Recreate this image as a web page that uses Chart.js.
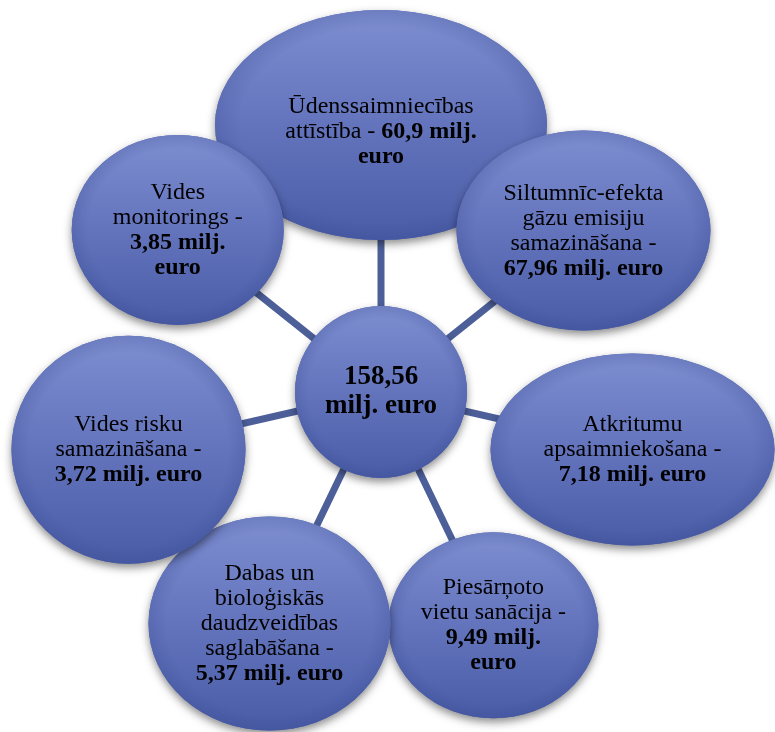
<!DOCTYPE html>
<html>
<head>
<meta charset="utf-8">
<script src="https://cdn.jsdelivr.net/npm/chart.js@4.4.1/dist/chart.umd.min.js"></script>
<style>
  html, body { margin: 0; padding: 0; background: #ffffff; }
  #wrap { width: 775px; height: 732px; }
</style>
</head>
<body>
<div id="wrap"><canvas id="chart" width="775" height="732"></canvas></div>
<script>
// Budget areas (milj. euro), clockwise from the top
const categories = [
    'Ūdenssaimniecības attīstība',
    'Siltumnīc-efekta gāzu emisiju samazināšana',
    'Atkritumu apsaimniekošana',
    'Piesārņoto vietu sanācija',
    'Dabas un bioloģiskās daudzveidības saglabāšana',
    'Vides risku samazināšana',
    'Vides monitorings'
];
const amounts = [60.9, 67.96, 7.18, 9.49, 5.37, 3.72, 3.85];
const total = 158.56;
const unit = 'milj. euro';

// Radial layout (in chart units, 1 unit = 1 px)
const hub = { x: 381, y: 392, r: 86 };
const nodeDist = [267, 259, 258, 259, 257, 259, 260];
const nodeRx = [166, 127, 142, 105, 121, 117, 106];
const nodeRy = [115, 100, 96, 93, 107, 114, 95];
const wrapWidth = [195, 165, 182, 147, 152, 155, 135];
const textDy = [7, 1, 0, 0, 0, 0, 0];

const FONT = '"Liberation Serif", "Times New Roman", serif';

function fmt(v) {
    return String(v).replace('.', ',');
}

// node centres from the angle step around the hub
const nodes = categories.map((c, i) => {
    const a = (90 - i * 360 / categories.length) * Math.PI / 180;
    return { x: hub.x + nodeDist[i] * Math.cos(a), y: hub.y - nodeDist[i] * Math.sin(a) };
});

function tokensFor(name, value) {
    const t = name.split(' ').map(w => ({ t: w, bold: false }));
    t.push({ t: '-', bold: false });
    (fmt(value) + ' ' + unit).split(' ').forEach(w => t.push({ t: w, bold: true }));
    return t;
}

function wrap(ctx, tokens, maxW, size) {
    const lines = [];
    let cur = [];
    let curW = 0;
    ctx.font = `${size}px ${FONT}`;
    const space = ctx.measureText(' ').width;
    tokens.forEach(tok => {
        ctx.font = `${tok.bold ? 'bold ' : ''}${size}px ${FONT}`;
        const w = ctx.measureText(tok.t).width;
        const nw = cur.length ? curW + space + w : w;
        if (cur.length && nw > maxW) {
            lines.push({ toks: cur, w: curW });
            cur = [{ ...tok, w }];
            curW = w;
        } else {
            cur.push({ ...tok, w });
            curW = nw;
        }
    });
    if (cur.length) lines.push({ toks: cur, w: curW });
    return { lines, space };
}

function drawText(ctx, tokens, cx, cy, maxW, size, lh) {
    const { lines, space } = wrap(ctx, tokens, maxW, size);
    ctx.fillStyle = '#000000';
    ctx.textBaseline = 'middle';
    ctx.textAlign = 'left';
    const top = cy - (lines.length - 1) * lh / 2;
    lines.forEach((ln, k) => {
        let x = cx - ln.w / 2;
        const y = top + k * lh;
        ln.toks.forEach(tok => {
            ctx.font = `${tok.bold ? 'bold ' : ''}${size}px ${FONT}`;
            ctx.fillText(tok.t, x, y);
            x += tok.w + space;
        });
    });
}

function drawBlob(ctx, x, y, rx, ry) {
    ctx.save();
    ctx.shadowColor = 'rgba(0,0,0,0.45)';
    ctx.shadowBlur = 9;
    ctx.shadowOffsetY = 4;
    ctx.beginPath();
    ctx.ellipse(x, y, rx, ry, 0, 0, Math.PI * 2);
    ctx.fillStyle = '#5669b3';
    ctx.fill();
    ctx.restore();

    const g = ctx.createLinearGradient(0, y - ry, 0, y + ry);
    g.addColorStop(0, '#7e8ed0');
    g.addColorStop(0.5, '#6374bd');
    g.addColorStop(1, '#495ca5');
    ctx.beginPath();
    ctx.ellipse(x, y, rx, ry, 0, 0, Math.PI * 2);
    ctx.fillStyle = g;
    ctx.fill();

    // soft darker rim
    ctx.save();
    ctx.translate(x, y);
    ctx.scale(rx, ry);
    const r2 = ctx.createRadialGradient(0, 0, 0.85, 0, 0, 1);
    r2.addColorStop(0, 'rgba(50,68,140,0)');
    r2.addColorStop(1, 'rgba(50,68,140,0.22)');
    ctx.beginPath();
    ctx.arc(0, 0, 1, 0, Math.PI * 2);
    ctx.fillStyle = r2;
    ctx.fill();
    ctx.restore();
}

const radialPlugin = {
    id: 'radialPlugin',
    beforeDatasetsDraw(chart) {
        const ctx = chart.ctx;
        const xs = chart.scales.x;
        const ys = chart.scales.y;
        const px = v => xs.getPixelForValue(v);
        const py = v => ys.getPixelForValue(v);
        const hx = px(hub.x), hy = py(hub.y);

        // connectors
        ctx.save();
        ctx.strokeStyle = '#4c5f99';
        ctx.lineWidth = 7;
        nodes.forEach(n => {
            ctx.beginPath();
            ctx.moveTo(hx, hy);
            ctx.lineTo(px(n.x), py(n.y));
            ctx.stroke();
        });
        ctx.restore();

        // hub
        const hr = px(hub.x + hub.r) - hx;
        drawBlob(ctx, hx, hy, hr, hr);
        drawText(ctx, [{ t: fmt(total), bold: true }].concat(unit.split(' ').map(w => ({ t: w, bold: true }))),
            hx, hy, 130, 27, 29);

        // satellites
        nodes.forEach((n, i) => {
            const x = px(n.x), y = py(n.y);
            const rx = px(n.x + nodeRx[i]) - x;
            const ry = Math.abs(py(n.y + nodeRy[i]) - y);
            drawBlob(ctx, x, y, rx, ry);
            drawText(ctx, tokensFor(categories[i], amounts[i]), x, y + textDy[i], wrapWidth[i], 24, 25);
        });
    }
};

new Chart(document.getElementById('chart'), {
    type: 'scatter',
    data: {
        datasets: [{
            data: nodes.map((n, i) => ({ x: n.x, y: n.y, v: amounts[i] })),
            pointRadius: 0,
            pointHoverRadius: 0
        }]
    },
    options: {
        responsive: false,
        animation: false,
        layout: { padding: 0 },
        plugins: { legend: { display: false }, tooltip: { enabled: false } },
        scales: {
            x: { type: 'linear', min: 0, max: 775, display: false },
            y: { type: 'linear', min: 0, max: 732, reverse: true, display: false }
        }
    },
    plugins: [radialPlugin]
});
</script>
</body>
</html>
